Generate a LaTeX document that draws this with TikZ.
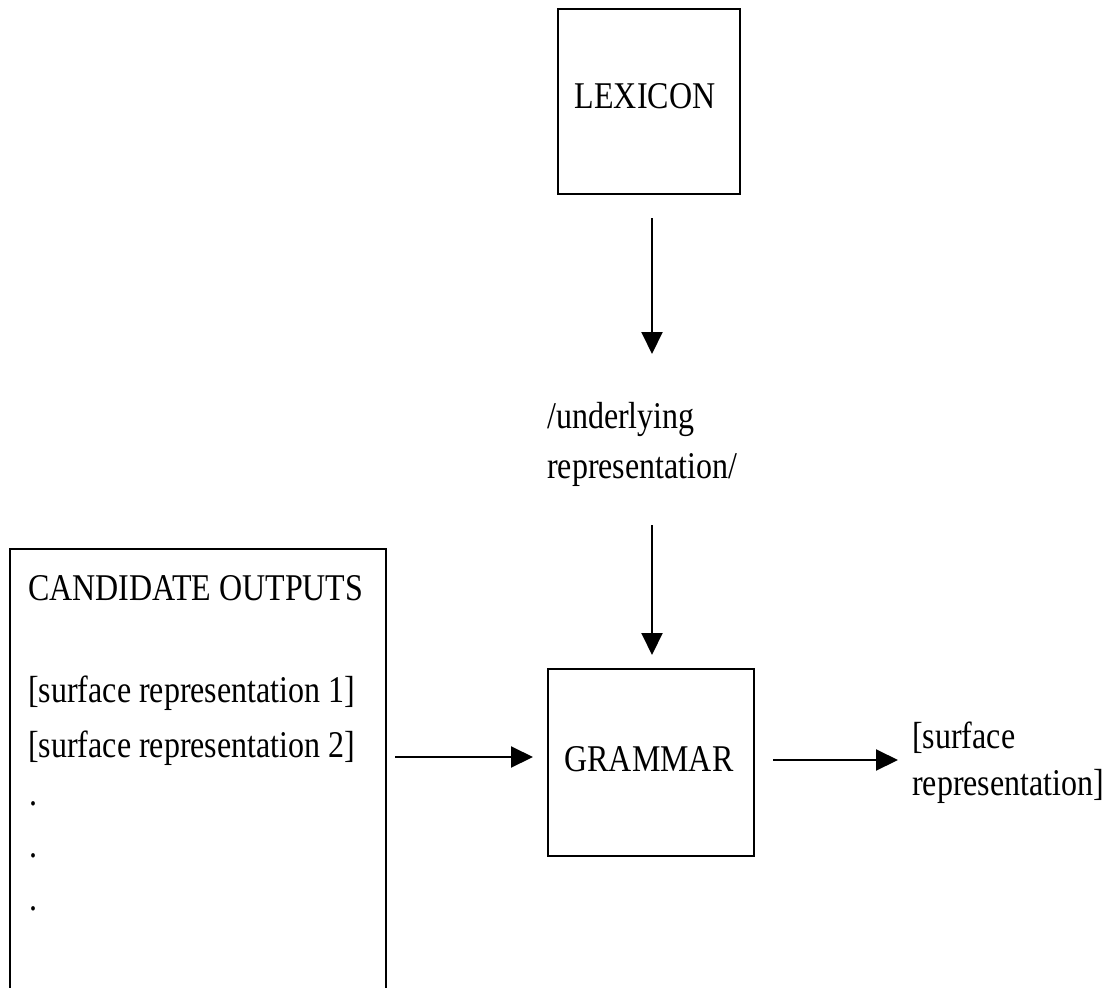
\documentclass[tikz,border=0pt]{standalone}
\usepackage{fontspec}
\usepackage{graphicx}
\setmainfont{Liberation Serif}
\usetikzlibrary{arrows.meta}
\newcommand{\vst}[1]{\scalebox{1}[1.18]{#1}}
\begin{document}
\begin{tikzpicture}[x=1pt,y=-1pt,
  box/.style={draw, line width=2pt, inner sep=0pt},
  txt/.style={anchor=base west, inner sep=0pt, font=\fontsize{32}{38}\selectfont},
  ctxt/.style={anchor=base, inner sep=0pt, font=\fontsize{32}{38}\selectfont},
  arr/.style={line width=2pt, -{Triangle[length=22pt,width=21pt]}}]
\useasboundingbox (0,0) rectangle (1107,987);
% boxes
\node[box, minimum width=182pt, minimum height=185pt] (lex) at (649,101.5) {};
\node[ctxt] (lext) at (645,109) {\vst{LEXICON}};
\node[box, minimum width=206pt, minimum height=187pt] (gram) at (651,762.5) {};
\node[ctxt] (gramt) at (649,771) {\vst{GRAMMAR}};
\draw[line width=2pt] (10,992) -- (10,549) -- (386,549) -- (386,992);
% texts
\node[txt] (ur1) at (547,428) {\vst{/underlying}};
\node[txt] (ur2) at (547,478) {\vst{representation/}};
\node[txt] (co) at (28,600) {\vst{CANDIDATE OUTPUTS}};
\node[txt] (sr1) at (28,702) {\vst{[surface representation 1]}};
\node[txt] (sr2) at (28,757) {\vst{[surface representation 2]}};
\node[txt] (d1) at (29,805) {\vst{.}};
\node[txt] (d2) at (29,857) {\vst{.}};
\node[txt] (d3) at (29,910) {\vst{.}};
\node[txt] (out1) at (912,748) {\vst{[surface}};
\node[txt] (out2) at (912,795) {\vst{representation]}};
% arrow end points
\coordinate (a1s) at (652,218);
\coordinate (a1e) at (652,354);
\coordinate (a2s) at (652,525);
\coordinate (a2e) at (652,655);
\coordinate (a3s) at (395,757);
\coordinate (a3e) at (533,757);
\coordinate (a4s) at (773,760);
\coordinate (a4e) at (898,760);
\draw[arr] (a1s) -- (a1e);
\draw[arr] (a2s) -- (a2e);
\draw[arr] (a3s) -- (a3e);
\draw[arr] (a4s) -- (a4e);
\end{tikzpicture}
\end{document}
